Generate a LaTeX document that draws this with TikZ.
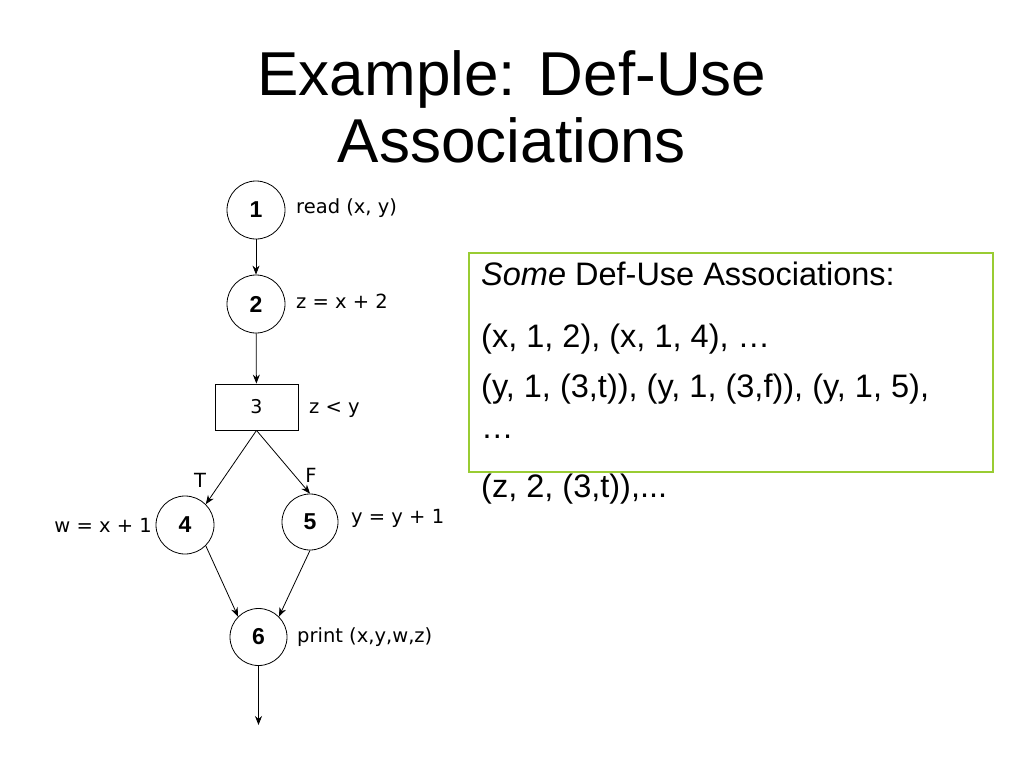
\documentclass[tikz,border=0pt]{standalone}
\usepackage{fontspec}
\setmainfont{Liberation Sans}
\newfontfamily\lblfont{DejaVu Sans}
\usetikzlibrary{arrows.meta}
\definecolor{boxgreen}{RGB}{153,204,51}
\begin{document}
\begin{tikzpicture}[x=1pt,y=-1pt,
  cnode/.style={circle,draw,line width=0.8pt,minimum size=58pt,inner sep=0pt,font=\fontsize{23}{25}\selectfont\bfseries},
  bnode/.style={rectangle,draw,line width=0.8pt,minimum width=83pt,minimum height=46pt,inner sep=0pt,font=\lblfont\fontsize{19}{21}\selectfont},
  lbl/.style={inner sep=0pt,font=\lblfont\fontsize{19.5}{21}\selectfont},
  edge/.style={line width=0.8pt,-{Stealth[length=9pt,width=7pt]}},
  ttl/.style={inner sep=0pt,font=\fontsize{62}{67}\selectfont},
  txt/.style={inner sep=0pt,anchor=base west,font=\fontsize{32.5}{36}\selectfont}]
\useasboundingbox (0,0) rectangle (1024,768);
% title
\node[ttl,anchor=base] (t1) at (512,95) {Example: Def-Use};
\node[ttl,anchor=base] (t2) at (512,162) {Associations};
% graph
\node[cnode] (n1) at (256,210) {1};
\node[cnode] (n2) at (256,304) {2};
\node[bnode] (n3) at (256.5,407) {3};
\node[cnode] (n4) at (185,525) {4};
\node[cnode,minimum size=56pt] (n5) at (310,522) {5};
\node[cnode,minimum size=57pt] (n6) at (258.5,637) {6};
\coordinate (out) at (258.5,725);
\draw[edge] (n1) -- (n2);
\draw[edge] (n2) -- (n3);
\draw[edge] (n3.south) -- (n4.north east);
\draw[edge] (n3.south) -- (n5.north);
\draw[edge] (n4.south east) -- (n6.north west);
\draw[edge] (n5.south) -- (n6.north east);
\draw[edge] (n6) -- (out);
% labels
\node[lbl,anchor=base west] (l1) at (296,213) {read (x, y)};
\node[lbl,anchor=base west] (l2) at (296,308) {z = x + 2};
\node[lbl,anchor=base west] (l3) at (309,413) {z < y};
\node[lbl,anchor=base] (lt) at (200,487) {T};
\node[lbl,anchor=base] (lf) at (311,482) {F};
\node[lbl,anchor=base east] (l4) at (152,532) {w = x + 1};
\node[lbl,anchor=base west] (l5) at (351,523) {y = y + 1};
\node[lbl,anchor=base west] (l6) at (297,642) {print (x,y,w,z)};
% associations box
\draw[boxgreen,line width=1.3pt] (469,253) rectangle (993,472);
\node[txt] (a1) at (481,285) {\textit{Some} Def-Use Associations:};
\node[txt] (a2) at (481,347) {(x, 1, 2), (x, 1, 4), …};
\node[txt] (a3) at (481,397) {(y, 1, (3,t)), (y, 1, (3,f)), (y, 1, 5),};
\node[txt] (a4) at (481,438) {…};
\node[txt] (a5) at (481,497) {(z, 2, (3,t)),...};
\end{tikzpicture}
\end{document}
